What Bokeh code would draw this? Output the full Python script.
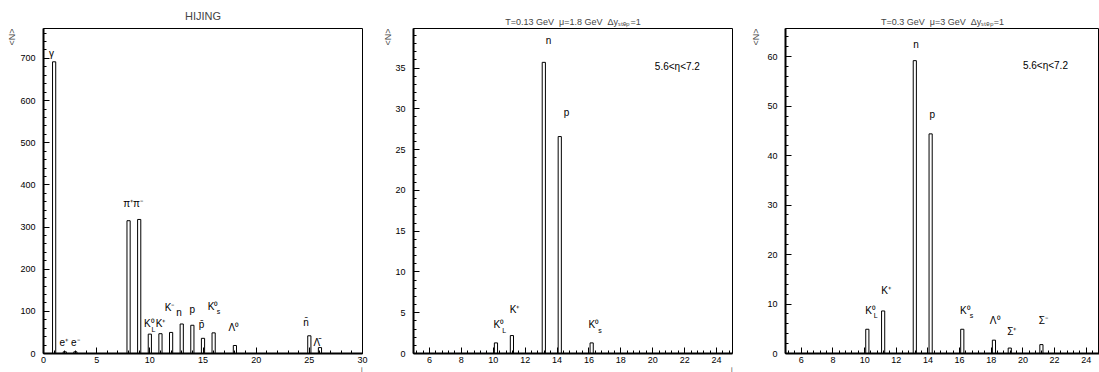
import numpy as np
from bokeh.plotting import figure
from bokeh.models import ColumnDataSource, Range1d, SingleIntervalTicker, Title
from bokeh.layouts import row
from bokeh.transform import dodge
from bokeh.core.properties import value
from bokeh.embed import file_html
from bokeh.resources import INLINE

FONT = "Liberation Sans"
SP = "\u00a0\u00a0"

# ---------------- data ----------------
# Panel 1: HIJING
hij_i = [1, 2, 3, 8, 9, 10, 11, 12, 13, 14, 15, 16, 18, 25, 26]
hij_n = [692, 4, 4, 315, 318, 46, 47, 50, 70, 67, 36, 49, 19, 42, 14]
hij_lab = ["γ", "e⁺ e⁻", "π⁺π⁻", "K⁰", "K⁺", "K⁻", "n", "p", "p\u0304", "K⁰", "Λ⁰", "n\u0304", "Λ\u0304"]
hij_lab_x = [0.75, 2.45, 8.42, 9.95, 11.0, 11.85, 12.75, 14.0, 14.86, 15.95, 17.9, 24.7, 25.7]
hij_lab_y = [712, 25, 357, 70, 70, 110, 98, 104, 68, 112, 61, 73, 25]
hij_sub = ["L", "s"]
hij_sub_x = [10.35, 16.45]
hij_sub_y = [58, 100]

# Panel 2: T=0.13 GeV, mu=1.8 GeV
mid_i = [10, 11, 13, 14, 16]
mid_n = [1.3, 2.2, 35.7, 26.6, 1.3]
mid_lab = ["K⁰", "K⁺", "n", "p", "K⁰"]
mid_lab_x = [10.35, 11.33, 13.47, 14.6, 16.3]
mid_lab_y = [3.5, 5.4, 38.4, 29.5, 3.5]
mid_sub = ["L", "s"]
mid_sub_x = [10.68, 16.7]
mid_sub_y = [2.8, 2.8]

# Panel 3: T=0.3 GeV, mu=3 GeV
rgt_i = [10, 11, 13, 14, 16, 18, 19, 21]
rgt_n = [4.9, 8.6, 59.2, 44.4, 4.9, 2.7, 1.1, 1.8]
rgt_lab = ["K⁰", "K⁺", "n", "p", "K⁰", "Λ⁰", "Σ⁺", "Σ⁻"]
rgt_lab_x = [10.37, 11.35, 13.24, 14.27, 16.37, 18.25, 19.3, 21.29]
rgt_lab_y = [8.7, 12.7, 62.5, 48.4, 8.7, 6.6, 4.4, 6.6]
rgt_sub = ["L", "s"]
rgt_sub_x = [10.7, 16.75]
rgt_sub_y = [7.6, 7.6]

titles = ["HIJING",
          "T=0.13 GeV" + SP + "μ=1.8 GeV" + SP + "Δyₛₜₑₚ=1",
          "T=0.3 GeV" + SP + "μ=3 GeV" + SP + "Δyₛₜₑₚ=1"]
eta_text = "5.6<η<7.2"


def style(p, xint, yint):
    p.xaxis.ticker = SingleIntervalTicker(interval=xint, num_minor_ticks=5)
    p.yaxis.ticker = SingleIntervalTicker(interval=yint, num_minor_ticks=5)
    p.xgrid.visible = False
    p.ygrid.visible = False
    p.outline_line_color = "black"
    p.outline_line_width = 1
    for ax in (p.xaxis[0], p.yaxis[0]):
        ax.axis_line_width = 2
        ax.axis_line_color = "black"
        ax.major_tick_in = 6
        ax.major_tick_out = 0
        ax.minor_tick_in = 3
        ax.minor_tick_out = 0
        ax.major_tick_line_color = "black"
        ax.minor_tick_line_color = "black"
        ax.major_label_text_font = FONT
        ax.major_label_text_font_size = "9px"
        ax.major_label_text_color = "black"
    p.xaxis.major_label_standoff = 3
    p.yaxis.major_label_standoff = 8
    p.background_fill_color = "white"
    p.border_fill_color = "white"


def make(width, bl, br, xr, yr, xint, yint, title, tsize, tstand, nstand, with_i):
    p = figure(width=width, height=372, output_backend="svg", toolbar_location=None,
               x_range=Range1d(*xr), y_range=Range1d(*yr),
               min_border_left=bl, min_border_right=br, min_border_top=27, min_border_bottom=19)
    style(p, xint, yint)
    p.title.text = title
    p.title.align = "center"
    p.title.text_font = FONT
    p.title.text_font_size = tsize
    p.title.text_font_style = "normal"
    p.title.standoff = tstand
    p.add_layout(Title(text="<N>", align="right", text_font=FONT, text_font_size="9px",
                       text_font_style="normal", standoff=nstand), "left")
    if with_i:
        p.add_layout(Title(text="i", align="right", text_font=FONT, text_font_size="7px",
                           text_font_style="normal", standoff=-4), "below")
    return p


def labels(p, txt, xs, ys, size="10px", align="center"):
    src = ColumnDataSource(dict(x=xs, y=ys, t=txt))
    p.text(x="x", y="y", text="t", source=src, text_font=value(FONT), text_font_size=size,
           text_align=align, text_baseline="middle", text_color="black")


# ---------------- panel 1 ----------------
p1 = make(375, 43, 13, (0, 30), (0, 771), 5, 100, titles[0], "11px", 14, 2, True)
s1 = ColumnDataSource(dict(i=hij_i, n=hij_n))
p1.vbar(x="i", top="n", width=0.3, source=s1, fill_color="white", line_color="black", line_width=1)
labels(p1, hij_lab, hij_lab_x, hij_lab_y)
labels(p1, hij_sub, hij_sub_x, hij_sub_y, size="7px")

# ---------------- panel 2 ----------------
p2 = make(370, 38, 13, (5, 25), (0, 39.85), 2, 5, titles[1], "9px", 3, 0, True)
s2 = ColumnDataSource(dict(i=mid_i, n=mid_n))
p2.vbar(x=dodge("i", 0.17, range=p2.x_range), top="n", width=0.2, source=s2,
        fill_color="white", line_color="black", line_width=1)
labels(p2, mid_lab, mid_lab_x, mid_lab_y)
labels(p2, mid_sub, mid_sub_x, mid_sub_y, size="7px")
labels(p2, [eta_text], [20.13], [35.2], align="left")

# ---------------- panel 3 ----------------
p3 = make(354, 40, 0, (5, 24.84), (0, 65.7), 2, 10, titles[2], "9px", 3, 7, False)
s3 = ColumnDataSource(dict(i=rgt_i, n=rgt_n))
p3.vbar(x=dodge("i", 0.17, range=p3.x_range), top="n", width=0.2, source=s3,
        fill_color="white", line_color="black", line_width=1)
labels(p3, rgt_lab, rgt_lab_x, rgt_lab_y)
labels(p3, rgt_sub, rgt_sub_x, rgt_sub_y, size="7px")
labels(p3, [eta_text], [20.0], [58.3], align="left")

layout = row(p1, p2, p3)
open("out.html", "w").write(file_html(layout, INLINE))
